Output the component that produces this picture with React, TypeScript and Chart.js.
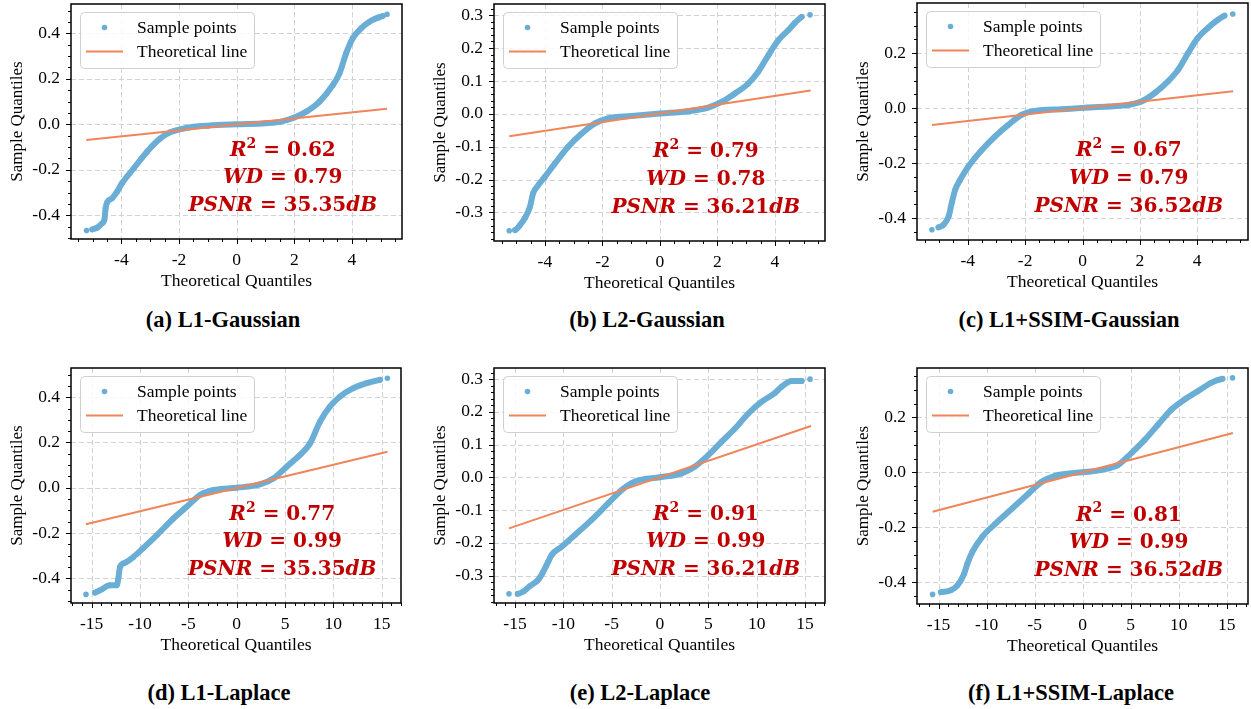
import React, { useEffect, useRef } from "react";
import { Chart, registerables } from "chart.js";
Chart.register(...registerables);

// ---------- data ----------
const titles = [
  "(a) L1-Gaussian",
  "(b) L2-Gaussian",
  "(c) L1+SSIM-Gaussian",
  "(d) L1-Laplace",
  "(e) L2-Laplace",
  "(f) L1+SSIM-Laplace",
];

const r2Values = [0.62, 0.79, 0.67, 0.77, 0.91, 0.81];
const wdValues = [0.79, 0.78, 0.79, 0.99, 0.99, 0.99];
const psnrValues = [35.35, 36.21, 36.52, 35.35, 36.21, 36.52];

// (a) L1-Gaussian
const aX = [-5.21, -5.01, -4.84, -4.67, -4.59, -4.55, -4.5, -4.32, -4.15, -3.98, -3.57, -3.11, -2.65, -2.31, -1.9, -1.5, -1.0, 0.0, 1.0, 1.5, 1.96, 2.42, 2.88, 3.34, 3.57, 3.8, 4.03, 4.32, 4.61, 4.9, 5.07, 5.22];
const aY = [-0.467, -0.462, -0.454, -0.435, -0.42, -0.369, -0.344, -0.325, -0.296, -0.259, -0.193, -0.12, -0.062, -0.035, -0.02, -0.011, -0.006, 0.0, 0.005, 0.011, 0.028, 0.056, 0.1, 0.173, 0.224, 0.312, 0.378, 0.422, 0.451, 0.469, 0.476, 0.484];
const aLineX = [-5.22, 5.22];
const aLineY = [-0.069, 0.069];

// (b) L2-Gaussian
const bX = [-5.24, -5.04, -4.87, -4.7, -4.52, -4.41, -4.23, -4.0, -3.65, -3.19, -2.72, -2.26, -1.8, -0.99, 0.0, 0.99, 1.68, 2.14, 2.61, 3.07, 3.42, 3.77, 4.12, 4.46, 4.7, 4.93, 5.22];
const bY = [-0.356, -0.354, -0.339, -0.318, -0.283, -0.242, -0.217, -0.192, -0.151, -0.1, -0.06, -0.029, -0.014, -0.007, 0.001, 0.008, 0.019, 0.036, 0.062, 0.092, 0.128, 0.178, 0.224, 0.254, 0.277, 0.295, 0.301];
const bLineX = [-5.24, 5.24];
const bLineY = [-0.068, 0.071];

// (c) L1+SSIM-Gaussian
const cX = [-5.25, -5.02, -4.85, -4.67, -4.56, -4.44, -4.27, -3.98, -3.51, -3.05, -2.59, -2.12, -1.66, -0.73, 0.0, 0.89, 1.59, 2.05, 2.52, 2.98, 3.33, 3.68, 4.02, 4.37, 4.72, 4.95, 5.24];
const cY = [-0.442, -0.433, -0.424, -0.394, -0.345, -0.297, -0.261, -0.212, -0.152, -0.103, -0.061, -0.024, -0.01, -0.004, 0.001, 0.006, 0.012, 0.024, 0.055, 0.097, 0.139, 0.2, 0.255, 0.291, 0.321, 0.336, 0.342];
const cLineX = [-5.25, 5.25];
const cLineY = [-0.061, 0.061];

// (d) L1-Laplace
const dX = [-15.59, -14.66, -14.14, -13.1, -12.41, -12.24, -12.07, -11.55, -10.69, -9.66, -8.28, -6.55, -5.17, -3.79, -2.41, 0.0, 2.41, 3.79, 5.17, 6.55, 7.59, 8.62, 9.66, 10.69, 12.07, 13.45, 14.83, 15.59];
const dY = [-0.471, -0.463, -0.453, -0.431, -0.431, -0.401, -0.35, -0.331, -0.306, -0.266, -0.21, -0.136, -0.084, -0.032, -0.01, 0.0, 0.015, 0.041, 0.093, 0.145, 0.196, 0.292, 0.359, 0.403, 0.44, 0.462, 0.477, 0.484];
const dLineX = [-15.6, 15.6];
const dLineY = [-0.161, 0.159];

// (e) L2-Laplace
const eX = [-15.62, -14.72, -14.14, -13.45, -12.59, -12.07, -11.55, -11.21, -10.17, -8.79, -7.07, -5.34, -3.97, -2.59, 0.0, 2.24, 3.62, 5.0, 6.38, 7.76, 9.14, 10.52, 11.9, 12.59, 13.62, 14.66, 15.52];
const eY = [-0.356, -0.356, -0.349, -0.332, -0.313, -0.288, -0.257, -0.237, -0.212, -0.176, -0.13, -0.079, -0.039, -0.013, 0.0, 0.012, 0.033, 0.068, 0.109, 0.149, 0.195, 0.231, 0.258, 0.277, 0.294, 0.294, 0.3];
const eLineX = [-15.62, 15.62];
const eLineY = [-0.156, 0.157];

// (f) L1+SSIM-Laplace
const fX = [-15.62, -14.76, -13.72, -13.03, -12.34, -12.0, -11.48, -10.45, -9.07, -7.34, -5.62, -4.24, -2.52, 0.0, 1.97, 3.69, 5.07, 6.45, 7.83, 9.21, 10.59, 11.97, 13.34, 14.55, 15.59];
const fY = [-0.445, -0.437, -0.43, -0.412, -0.37, -0.333, -0.29, -0.235, -0.187, -0.132, -0.077, -0.034, -0.01, 0.0, 0.009, 0.027, 0.07, 0.118, 0.173, 0.228, 0.265, 0.295, 0.326, 0.341, 0.344];
const fLineX = [-15.62, 15.62];
const fLineY = [-0.144, 0.143];

const sampleXs = [aX, bX, cX, dX, eX, fX];
const sampleYs = [aY, bY, cY, dY, eY, fY];
const lineXs = [aLineX, bLineX, cLineX, dLineX, eLineX, fLineX];
const lineYs = [aLineY, bLineY, cLineY, dLineY, eLineY, fLineY];

// axis ranges and tick steps
const xRanges = [[-5.75, 5.74], [-5.77, 5.74], [-5.77, 5.77], [-17.14, 17.0], [-17.17, 17.07], [-17.24, 17.2]];
const yRanges = [[-0.504, 0.529], [-0.387, 0.334], [-0.479, 0.382], [-0.509, 0.529], [-0.384, 0.334], [-0.48, 0.38]];
const xSteps = [2, 2, 2, 5, 5, 5];
const xMinorSteps = [0.5, 0.5, 0.5, 1, 1, 1];
const ySteps = [0.2, 0.1, 0.2, 0.2, 0.1, 0.2];
const yMinorSteps = [0.05, 0.02, 0.05, 0.05, 0.02, 0.05];

// ---------- layout (page pixels of each plot area: left, right, top, bottom) ----------
const AREAS = [
  [71, 402, 4, 239],
  [494, 825, 4, 241],
  [917, 1248, 3, 240],
  [71, 401, 368, 603],
  [494, 825, 368, 603],
  [917, 1248, 368, 604],
];
const TITLE_POS = [
  [223, 320],
  [647, 320],
  [1069, 320],
  [219, 693],
  [640, 693],
  [1071, 693],
];

const BLUE = "#6aaed6";
const ORANGE = "#f0855a";
const RED = "#c00000";
const SERIF = "'Liberation Serif', 'Times New Roman', serif";
const MATH = "'DejaVu Serif', serif";
const Y_AXIS_W = 71;
const PAD_TOP = 20;
const PAD_RIGHT = 6;
const X_AXIS_H = 55;

type Seg = { t: string; it?: boolean; sup?: boolean };

function drawSegs(ctx: CanvasRenderingContext2D, segs: Seg[], cx: number, cy: number) {
  const size = 20;
  const fontFor = (s: Seg) =>
    `${s.it ? "italic " : ""}bold ${s.sup ? 14 : size}px ${MATH}`;
  let total = 0;
  const widths = segs.map((s) => {
    ctx.font = fontFor(s);
    const w = ctx.measureText(s.t).width;
    total += w;
    return w;
  });
  let x = cx - total / 2;
  ctx.textBaseline = "middle";
  ctx.textAlign = "left";
  ctx.fillStyle = RED;
  segs.forEach((s, i) => {
    ctx.font = fontFor(s);
    ctx.fillText(s.t, x, s.sup ? cy - 7 : cy);
    x += widths[i];
  });
}

function makeDecor(i: number) {
  return {
    id: "decor" + i,
    beforeDatasetsDraw(chart: any) {
      const { ctx, chartArea: a, scales } = chart;
      const x = scales.x;
      const y = scales.y;
      ctx.save();
      ctx.beginPath();
      ctx.rect(a.left, a.top, a.right - a.left, a.bottom - a.top);
      ctx.clip();
      ctx.strokeStyle = "#d2d2d2";
      ctx.lineWidth = 1;
      ctx.setLineDash([5, 3]);
      x.ticks.forEach((t: any) => {
        const px = Math.round(x.getPixelForValue(t.value)) + 0.5;
        ctx.beginPath();
        ctx.moveTo(px, a.top);
        ctx.lineTo(px, a.bottom);
        ctx.stroke();
      });
      y.ticks.forEach((t: any) => {
        const py = Math.round(y.getPixelForValue(t.value)) + 0.5;
        ctx.beginPath();
        ctx.moveTo(a.left, py);
        ctx.lineTo(a.right, py);
        ctx.stroke();
      });
      ctx.restore();
    },
    afterDatasetsDraw(chart: any) {
      const { ctx, chartArea: a } = chart;
      const w = a.right - a.left;
      const h = a.bottom - a.top;
      ctx.save();
      // legend
      const lx = a.left + 9;
      const ly = a.top + 8;
      const lw = 174;
      const lh = 56;
      ctx.beginPath();
      (ctx as any).roundRect(lx + 0.5, ly + 0.5, lw, lh, 4);
      ctx.fillStyle = "rgba(255,255,255,0.85)";
      ctx.fill();
      ctx.strokeStyle = "#d0d0d0";
      ctx.lineWidth = 1;
      ctx.stroke();
      ctx.fillStyle = BLUE;
      ctx.beginPath();
      ctx.arc(a.left + 33.5, a.top + 23.5, 2.8, 0, Math.PI * 2);
      ctx.fill();
      ctx.strokeStyle = ORANGE;
      ctx.lineWidth = 2;
      ctx.beginPath();
      ctx.moveTo(a.left + 15, a.top + 47.5);
      ctx.lineTo(a.left + 52, a.top + 47.5);
      ctx.stroke();
      ctx.fillStyle = "#000";
      ctx.font = `17.5px ${SERIF}`;
      ctx.textAlign = "left";
      ctx.textBaseline = "middle";
      ctx.fillText("Sample points", a.left + 66, a.top + 24);
      ctx.fillText("Theoretical line", a.left + 66, a.top + 48.5);
      // annotation
      const cx = a.left + 0.64 * w;
      drawSegs(ctx, [{ t: "R", it: true }, { t: "2", sup: true }, { t: " = " + r2Values[i].toFixed(2) }], cx, a.top + 0.625 * h);
      drawSegs(ctx, [{ t: "WD", it: true }, { t: " = " + wdValues[i].toFixed(2) }], cx, a.top + 0.74 * h);
      drawSegs(ctx, [{ t: "PSNR", it: true }, { t: " = " + psnrValues[i].toFixed(2) }, { t: "dB", it: true }], cx, a.top + 0.858 * h);
      ctx.restore();
    },
    afterDraw(chart: any) {
      const { ctx, chartArea: a, scales } = chart;
      const x = scales.x;
      const y = scales.y;
      ctx.save();
      ctx.strokeStyle = "#000";
      // ticks
      ctx.lineWidth = 1;
      const xm = xMinorSteps[i];
      for (let k = Math.ceil(x.min / xm - 1e-9); k * xm <= x.max + 1e-9; k++) {
        const v = k * xm;
        const px = Math.round(x.getPixelForValue(v)) + 0.5;
        const major = Math.abs(v / xSteps[i] - Math.round(v / xSteps[i])) < 1e-6;
        ctx.beginPath();
        ctx.moveTo(px, a.bottom);
        ctx.lineTo(px, a.bottom + (major ? 5 : 3));
        ctx.stroke();
      }
      const ym = yMinorSteps[i];
      for (let k = Math.ceil(y.min / ym - 1e-9); k * ym <= y.max + 1e-9; k++) {
        const v = k * ym;
        const py = Math.round(y.getPixelForValue(v)) + 0.5;
        const major = Math.abs(v / ySteps[i] - Math.round(v / ySteps[i])) < 1e-6;
        ctx.beginPath();
        ctx.moveTo(a.left, py);
        ctx.lineTo(a.left - (major ? 5 : 3), py);
        ctx.stroke();
      }
      // frame
      ctx.lineWidth = 1.5;
      ctx.strokeRect(a.left, a.top, a.right - a.left, a.bottom - a.top);
      ctx.restore();
    },
  };
}

function Panel({ i }: { i: number }) {
  const ref = useRef<HTMLCanvasElement>(null);
  const [L, R, T, B] = AREAS[i];
  const cw = R - L + Y_AXIS_W + PAD_RIGHT;
  const ch = B - T + PAD_TOP + X_AXIS_H;

  useEffect(() => {
    if (!ref.current) return;
    const xs = sampleXs[i];
    const ys = sampleYs[i];
    const n = xs.length;
    const sample = xs.map((v, k) => ({ x: v, y: ys[k] }));
    const line = lineXs[i].map((v, k) => ({ x: v, y: lineYs[i][k] }));
    const tickFont = { family: SERIF, size: 17.5 };
    const chart = new Chart(ref.current, {
      type: "scatter",
      data: {
        datasets: [
          {
            label: "Theoretical line",
            data: line,
            showLine: true,
            borderColor: ORANGE,
            borderWidth: 2,
            pointRadius: 0,
            order: 1,
          },
          {
            label: "Sample points",
            data: sample,
            showLine: true,
            borderColor: BLUE,
            backgroundColor: BLUE,
            borderWidth: 6,
            borderCapStyle: "round",
            borderJoinStyle: "round",
            cubicInterpolationMode: "monotone",
            pointRadius: 2.8,
            pointBorderWidth: 0,
            pointBackgroundColor: BLUE,
            order: 2,
            segment: {
              borderColor: (c: any) =>
                c.p0DataIndex === 0 || c.p1DataIndex === n - 1 ? "rgba(0,0,0,0)" : BLUE,
            },
          },
        ],
      } as any,
      options: {
        responsive: false,
        animation: false,
        events: [],
        layout: { padding: { top: PAD_TOP, right: PAD_RIGHT, left: 0, bottom: 0 } },
        plugins: { legend: { display: false }, tooltip: { enabled: false } },
        scales: {
          x: {
            type: "linear",
            min: xRanges[i][0],
            max: xRanges[i][1],
            grid: { display: false, drawTicks: false, tickLength: 0 },
            border: { display: false },
            ticks: {
              stepSize: xSteps[i],
              includeBounds: false,
              maxRotation: 0,
              autoSkip: false,
              padding: 11,
              color: "#000",
              font: tickFont,
              callback: (v: any) => String(Math.round(Number(v))),
            },
            title: {
              display: true,
              text: "Theoretical Quantiles",
              color: "#000",
              font: tickFont,
              padding: { top: 0, bottom: 2 },
            },
            afterFit: (s: any) => {
              s.height = X_AXIS_H;
              s.paddingLeft = 0;
              s.paddingRight = 0;
            },
          },
          y: {
            type: "linear",
            min: yRanges[i][0],
            max: yRanges[i][1],
            grid: { display: false, drawTicks: false, tickLength: 0 },
            border: { display: false },
            ticks: {
              stepSize: ySteps[i],
              includeBounds: false,
              autoSkip: false,
              padding: 11,
              color: "#000",
              font: tickFont,
              callback: (v: any) => Number(v).toFixed(1),
            },
            title: {
              display: true,
              text: "Sample Quantiles",
              color: "#000",
              font: { family: SERIF, size: 17 },
              padding: { top: 7, bottom: 0 },
            },
            afterFit: (s: any) => {
              s.width = Y_AXIS_W;
              s.paddingTop = 0;
              s.paddingBottom = 0;
            },
          },
        },
      } as any,
      plugins: [makeDecor(i)],
    });
    return () => chart.destroy();
  }, [i]);

  return (
    <canvas
      ref={ref}
      width={cw}
      height={ch}
      style={{
        position: "absolute",
        left: L - Y_AXIS_W,
        top: T - PAD_TOP,
        width: cw,
        height: ch,
      }}
    />
  );
}

export default function App() {
  return (
    <div
      style={{
        position: "fixed",
        left: 0,
        top: 0,
        width: 1251,
        height: 709,
        overflow: "hidden",
        background: "#fff",
      }}
    >
      {titles.map((_, i) => (
        <Panel key={i} i={i} />
      ))}
      {titles.map((t, i) => (
        <div
          key={"t" + i}
          style={{
            position: "absolute",
            left: TITLE_POS[i][0],
            top: TITLE_POS[i][1],
            transform: "translate(-50%, -50%)",
            whiteSpace: "nowrap",
            font: `bold 22.5px ${SERIF}`,
            color: "#000",
          }}
        >
          {t}
        </div>
      ))}
    </div>
  );
}
